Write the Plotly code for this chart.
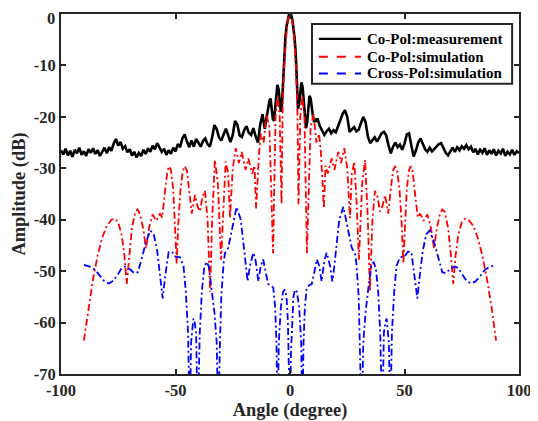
import plotly.graph_objects as go

# ---------------- data ----------------
# Co-Pol measurement (angle in degree, amplitude in dB)
meas_angle = [-100,-99,-98,-97,-96,-95,-94,-93,-92,-91,-90,-89,-88,-87,-86,-85,-84,-83,-82,-81,
              -80,-79,-78,-77,-76,-75,-74,-73,-72,-71,-70,-69,-68,-67,-66,-65,-64,-63,-62,-61,
              -60,-59,-58,-57,-56,-55,-54,-53,-52,-51,-50,-49,-48,-47,-46,-45,-44,-43,-42,-41,
              -40,-39,-38,-37,-36,-35,-34,-33,-32,-31,-30,-29,-28,-27,-26,-25,-24,-23,-22,-21,
              -20,-19,-18,-17,-16,-15,-14,-13,-12,
              -11.5,-11,-10.5,-10,-9.5,-9,-8.5,-8,-7.5,-7,-6.5,-6,-5.5,-5,-4.5,-4,-3.5,-3,-2.5,-2,
              -1.5,-1,-0.5,0,0.5,1,1.5,2,2.5,3,3.5,4,4.5,5,5.5,6,6.5,7,7.5,8,8.5,9,9.5,10,10.5,11,11.5,
              12,13,14,15,16,17,18,19,20,21,22,23,24,25,26,27,28,29,30,31,32,33,34,35,36,37,38,39,
              40,41,42,43,44,45,46,47,48,49,50,51,52,53,54,55,56,57,58,59,60,61,62,63,64,65,66,67,68,69,
              70,71,72,73,74,75,76,77,78,79,80,81,82,83,84,85,86,87,88,89,90,91,92,93,94,95,96,97,98,99,100]
meas_db = [-26.5,-27.3,-26.2,-27.5,-26.6,-27.8,-26.4,-27.1,-26.0,-27.4,-26.7,-27.6,-26.3,-27.0,-26.1,-27.2,-26.5,-27.6,-26.8,-26.0,
           -27.1,-25.9,-26.6,-25.2,-24.3,-25.6,-24.9,-26.2,-25.7,-26.9,-26.3,-27.5,-26.8,-27.9,-27.0,-27.6,-26.4,-27.2,-26.1,-26.8,
           -25.6,-26.3,-25.1,-25.9,-26.8,-26.2,-27.4,-26.5,-27.2,-26.0,-26.7,-25.3,-25.9,-24.2,-23.4,-24.8,-25.9,-24.6,-25.8,-24.3,
           -25.2,-25.8,-24.7,-24.2,-25.3,-25.8,-24.0,-21.6,-22.4,-24.0,-24.6,-23.4,-22.3,-23.6,-24.9,-23.5,-20.8,-21.5,-23.6,-23.9,
           -22.6,-21.8,-23.1,-23.5,-22.2,-23.8,-25.0,-21.5,-19.5,
           -21.0,-22.3,-20.8,-19.2,-18.6,-17.0,-16.4,-18.0,-20.4,-20.8,-18.0,-15.0,-13.8,-14.6,-17.2,-19.0,-17.5,-12.5,-7.5,-4.5,
           -2.4,-1.0,-0.2,0.0,-0.2,-1.0,-2.4,-4.6,-7.8,-13.0,-18.4,-17.5,-14.5,-13.3,-14.2,-17.0,-20.0,-22.2,-21.0,-17.6,-15.9,-16.4,-18.5,-19.8,-21.0,-20.6,-20.9,
           -20.3,-21.8,-22.6,-23.5,-22.8,-22.3,-23.2,-22.6,-23.0,-21.8,-20.2,-19.4,-18.7,-20.0,-22.9,-22.4,-22.0,-22.8,-22.5,-21.2,-20.0,-21.0,-23.8,-25.1,-24.6,-24.0,-24.8,-23.9,
           -23.2,-22.9,-23.6,-25.5,-27.1,-25.8,-25.0,-25.9,-25.4,-26.4,-25.2,-23.4,-23.2,-25.6,-27.7,-26.5,-25.0,-24.2,-25.1,-26.3,-26.8,-26.0,-26.7,-26.2,-25.7,-25.3,-25.1,-26.2,-27.0,-27.5,
           -26.6,-26.0,-26.8,-25.9,-26.5,-25.7,-26.2,-25.5,-26.3,-25.8,-26.9,-26.2,-27.3,-26.4,-27.0,-26.1,-27.4,-26.5,-27.2,-26.3,-27.5,-26.6,-27.1,-26.2,-27.6,-26.8,-27.3,-26.4,-27.4,-26.7,-27.0]

# Co-Pol simulation
copol_angle = [-90,-88,-86,-84,-82,-80,-78,-76.5,-75,-73.5,-72.3,-71.3,-70.3,-69,-67.5,-66.5,-65.3,-64,-62.9,-61.5,
               -60,-58.3,-56.8,-55.8,-54.5,-53.5,-52.8,-52,-51,-50.2,-49.5,-48.8,-47.8,-46.8,-45.9,-45,-44,-42.9,-41.5,-40.3,
               -39.3,-38.2,-37.1,-36,-34.9,-34,-32.8,-31.5,-30.1,-29,-28.1,-27,-26.2,-25,-23.7,-22.3,-21.1,-19.4,-18.2,-16.5,
               -15.5,-14.8,-13.5,-12.7,-11.5,-10.3,-9,-7.4,-6.3,-5.4,-4.5,-3.7,-3.2,-2.6,-2.0,-1.4,-0.7,0,
               0.7,1.4,2.0,2.6,3.2,3.7,4.5,5.4,6.3,7.4,9,10.3,11.5,12.7,13.5,14.8,15.5,16.5,18.2,19.4,
               21.1,22.3,23.7,25,26.2,27,28.1,29,30.1,31.5,32.8,34,34.9,36,37.1,38.2,39.3,40.3,41.5,42.9,
               44,45,45.9,46.8,47.8,48.8,49.5,50.2,51,52,52.8,53.5,54.5,55.8,56.8,58.3,60,61.5,62.9,64,
               65.3,66.5,67.5,69,70.3,71.3,72.3,73.5,75,76.5,78,80,82,84,86,88,90]
copol_db = [-63.5,-57.0,-51.5,-47.0,-43.5,-41.2,-40.0,-39.8,-40.5,-43.0,-47.0,-52.5,-47.0,-41.5,-38.4,-38.0,-39.2,-42.0,-45.6,-41.5,
            -39.0,-40.2,-38.8,-39.6,-34.0,-30.5,-29.6,-30.3,-34.0,-41.0,-48.5,-41.0,-34.0,-30.5,-29.6,-30.5,-34.0,-38.8,-35.2,-37.5,
            -38.4,-35.5,-34.4,-40.0,-54.0,-40.0,-28.4,-33.0,-47.8,-36.0,-28.7,-31.0,-39.7,-30.0,-26.1,-29.0,-26.8,-30.3,-28.1,-31.0,
            -29.5,-37.8,-27.0,-23.3,-25.0,-19.5,-22.0,-46.5,-20.0,-15.9,-20.0,-37.0,-18.0,-10.5,-5.8,-2.8,-0.7,0.0,
            -0.7,-2.8,-5.8,-10.5,-18.0,-37.0,-20.0,-15.9,-20.0,-46.5,-22.0,-19.5,-25.0,-23.3,-27.0,-37.8,-29.5,-31.0,-28.1,-30.3,
            -26.8,-29.0,-26.1,-30.0,-39.7,-31.0,-28.7,-36.0,-47.8,-33.0,-28.4,-40.0,-54.0,-40.0,-34.4,-35.5,-38.4,-37.5,-35.2,-38.8,
            -34.0,-30.5,-29.6,-30.5,-34.0,-41.0,-48.5,-41.0,-34.0,-30.3,-29.6,-30.5,-34.0,-39.6,-38.8,-40.2,-39.0,-41.5,-45.6,-42.0,
            -39.2,-38.0,-38.4,-41.5,-47.0,-52.5,-47.0,-43.0,-40.5,-39.8,-40.0,-41.2,-43.5,-47.0,-51.5,-57.0,-63.5]

# Cross-Pol simulation
xpol_angle = [-90,-87,-85,-83,-81,-79,-77,-75,-73.5,-72,-70,-68,-66.5,-65,-63,-61,-59.5,-58,-56.5,-55.6,
              -54.5,-53,-51.5,-50,-48,-46.5,-45.5,-44.5,-43.8,-43.2,-42.2,-41.6,-41.0,-40.3,-39.4,-38.5,-37.5,-36.5,-35.5,-34.3,
              -33,-32,-31.3,-30.6,-30,-29,-28.4,-27,-25.5,-23.3,-21.5,-20,-19,-18.5,-17.5,-16,-15,-13.8,-12.8,-11.7,
              -10.5,-9.5,-8.5,-7.3,-6.5,-5.9,-5.4,-4.9,-4.0,-3.0,-2.2,-1.5,-0.9,-0.4,0,
              0.4,0.9,1.5,2.2,3.0,4.0,4.9,5.4,5.9,6.5,7.3,8.5,9.5,10.5,11.7,12.8,13.8,15,16,17.5,
              18.5,19,20,21.5,23.3,25.5,27,28.4,29,30,30.6,31.3,32,33,34.3,35.5,36.5,37.5,38.5,39.4,
              40.3,41.0,41.6,42.2,43.2,43.8,44.5,45.5,46.5,48,50,51.5,53,54.5,55.6,56.5,58,59.5,61,63,
              65,66.5,68,70,72,73.5,75,77,79,81,83,85,87,90]
xpol_db = [-48.8,-49.2,-49.8,-51.0,-52.0,-52.4,-51.8,-50.5,-49.4,-49.1,-49.6,-50.4,-50.2,-48.0,-44.5,-42.1,-42.8,-46.0,-51.5,-55.3,
           -51.0,-46.3,-46.2,-47.2,-47.3,-49.0,-54.0,-62.0,-80.0,-64.0,-59.2,-60.0,-62.0,-80.0,-62.0,-54.0,-49.5,-48.2,-49.0,-53.0,
           -58.0,-64.0,-80.0,-64.0,-55.0,-48.5,-46.5,-45.5,-42.0,-37.5,-40.0,-46.0,-50.5,-52.0,-49.0,-46.4,-48.0,-52.0,-49.0,-47.7,
           -50.5,-52.5,-52.7,-53.2,-57.0,-64.0,-80.0,-64.0,-57.0,-54.0,-53.6,-55.0,-60.0,-66.0,-80.0,
           -66.0,-60.0,-55.0,-53.6,-54.0,-57.0,-64.0,-80.0,-64.0,-57.0,-53.2,-52.7,-52.5,-50.5,-47.7,-49.0,-52.0,-48.0,-46.4,-49.0,
           -52.0,-50.5,-46.0,-40.0,-37.5,-42.0,-45.5,-46.5,-48.5,-55.0,-64.0,-80.0,-64.0,-58.0,-53.0,-49.0,-48.2,-49.5,-54.0,-62.0,
           -80.0,-62.0,-60.0,-59.2,-64.0,-80.0,-62.0,-54.0,-49.0,-47.3,-47.2,-46.2,-46.3,-51.0,-55.3,-51.5,-46.0,-42.8,-42.1,-44.5,
           -48.0,-50.2,-50.4,-49.6,-49.1,-49.4,-50.5,-51.8,-52.4,-52.0,-51.0,-49.8,-49.2,-48.8]

x_ticks = [-100, -50, 0, 50, 100]
x_tick_labels = ["-100", "-50", "0", "50", "100"]
y_ticks = [0, -10, -20, -30, -40, -50, -60, -70]
y_tick_labels = ["", "-10", "-20", "-30", "-40", "-50", "-60", "-70"]
y_top_label = "0"

series_names = ["Co-Pol:measurement", "Co-Pol:simulation", "Cross-Pol:simulation"]
series_colors = ["#000000", "#ff0000", "#0000ff"]

# ---------------- figure ----------------
FONT = "Liberation Serif, Times New Roman, serif"
AXC = "#262626"
DASH = "7px,3px,2px,3px"
dashes = ["solid", DASH, DASH]
widths = [2.6, 1.8, 1.8]

fig = go.Figure()
for xs, ys, nm, col, ds, w in zip([meas_angle, copol_angle, xpol_angle],
                                  [meas_db, copol_db, xpol_db],
                                  series_names, series_colors, dashes, widths):
    fig.add_trace(go.Scatter(x=xs, y=ys, mode="lines", name=nm, showlegend=False,
                             line=dict(color=col, width=w, dash=ds)))

# legend drawn as a box with line samples and text (paper coordinates of the plot area)
shapes = [dict(type="rect", xref="paper", yref="paper", x0=0.548, x1=0.985, y0=0.806, y1=0.972,
               fillcolor="white", line=dict(color=AXC, width=2), layer="above")]
annotations = []
row_y = [0.931, 0.881, 0.835]
for yy, nm, col, ds in zip(row_y, series_names, series_colors, dashes):
    shapes.append(dict(type="line", xref="paper", yref="paper", x0=0.563, x1=0.655, y0=yy, y1=yy,
                       line=dict(color=col, width=2.2 if ds == "solid" else 2.0,
                                 dash="solid" if ds == "solid" else "dash"),
                       layer="above"))
    annotations.append(dict(xref="paper", yref="paper", x=0.664, y=yy, text=nm, showarrow=False,
                            xanchor="left", yanchor="middle",
                            font=dict(family=FONT, size=15, color="black", weight="bold")))

# top y tick label placed just inside the figure edge
annotations.append(dict(xref="paper", yref="y", x=0, y=y_ticks[0], text=y_top_label, showarrow=False,
                        xanchor="right", yanchor="top", xshift=-4, yshift=7,
                        font=dict(family=FONT, size=16.5, color="#262626", weight="bold")))

axis_common = dict(showgrid=False, zeroline=False, showline=True, linecolor=AXC, linewidth=2,
                   mirror="ticks", ticks="inside", ticklen=5, tickwidth=1.5, tickcolor=AXC,
                   automargin=False,
                   tickfont=dict(family=FONT, size=16.5, color="#262626", weight="bold"))

fig.update_layout(
    width=538, height=421,
    margin=dict(l=53, r=27, t=6, b=55, autoexpand=False),
    paper_bgcolor="white", plot_bgcolor="white",
    xaxis=dict(range=[-100, 100], tickvals=x_ticks, ticktext=x_tick_labels,
               title=dict(text="Angle (degree)", standoff=4,
                          font=dict(family=FONT, size=18.4, color="#262626", weight="bold")),
               **axis_common),
    yaxis=dict(range=[-70, 0], tickvals=y_ticks, ticktext=y_tick_labels,
               title=dict(text="Amplitude (dB)", standoff=3,
                          font=dict(family=FONT, size=18.4, color="#262626", weight="bold")),
               **axis_common),
    shapes=shapes,
    annotations=annotations,
    showlegend=False,
)

fig.write_html("out.html")
